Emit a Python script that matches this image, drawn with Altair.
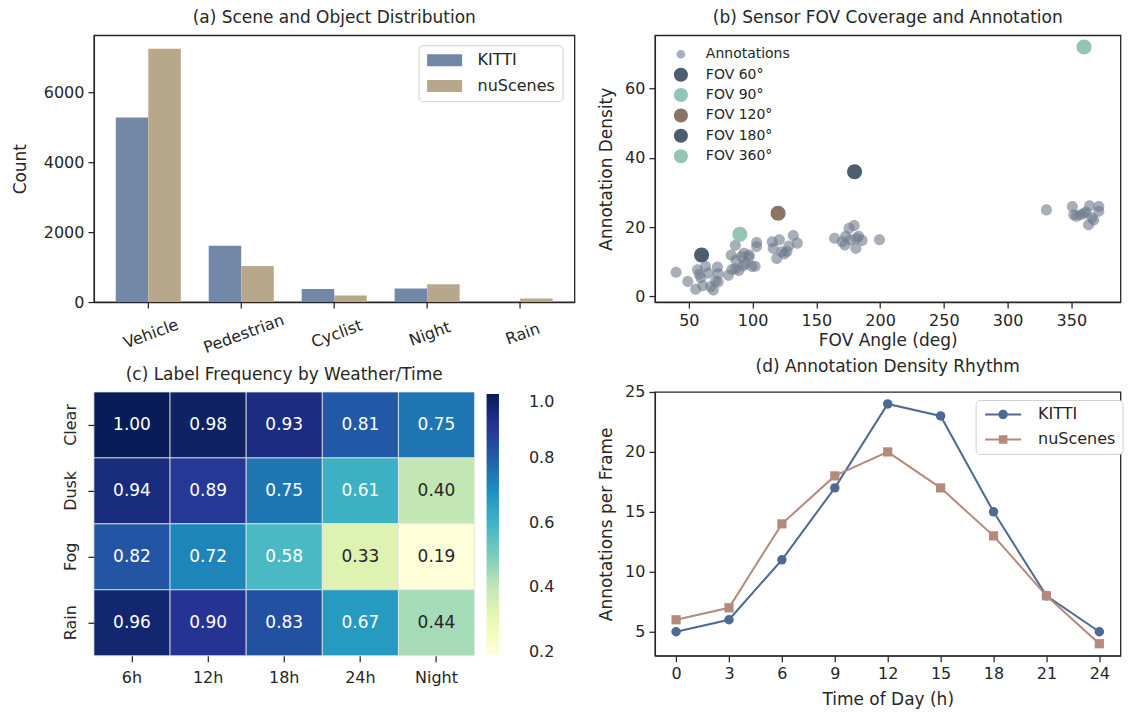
import altair as alt
import pandas as pd

FONT = "DejaVu Sans"
INK = "#262626"

# ---------------- (a) Scene and Object Distribution ----------------
cats_a = ["Vehicle", "Pedestrian", "Cyclist", "Night", "Rain"]
kitti_a = [5280, 1610, 370, 390, 0]
nus_a = [7250, 1030, 190, 510, 100]
datasets = ["KITTI", "nuScenes"]
bar_colors = ["#7387a6", "#b7a88b"]

# ---------------- (b) Sensor FOV Coverage ----------------
ann_fov = [40, 49.2, 55.4, 56.8, 58.1, 59.5, 60.8, 63.1, 65.4, 67, 69.2, 72.4, 73, 71, 73,
           81, 83.8, 83.2, 86.5, 87, 86.7, 89.2, 91.4, 93.2, 92.7, 94.6, 97.3, 97.2, 99.5, 102,
           103.2, 103.2, 115.4, 116.2, 119, 121, 123, 124.9, 127, 128.4, 131.9, 135.1,
           164.3, 170.3, 172.4, 173, 175.7, 177, 179.7, 181, 181.6, 183.2, 185.9, 199.5,
           330.5, 350.8, 351.9, 354, 357.3, 360, 361.6, 363.5, 364.3, 366.2, 367.6, 371.6, 371.6]
ann_den = [7.0, 4.3, 2.1, 7.7, 6.4, 5.4, 3.1, 8.7, 6.8, 2.8, 1.9, 8.5, 6.6, 4.4, 4.2,
           6.1, 7.8, 12.0, 14.8, 10.5, 8.0, 7.5, 11.5, 12.5, 8.9, 9.5, 12.0, 11.4, 8.7, 8.7,
           15.6, 14.4, 15.8, 13.9, 11.0, 16.4, 12.9, 12.3, 13.0, 14.6, 17.6, 15.4,
           16.8, 15.8, 14.9, 17.4, 19.7, 16.4, 20.5, 13.9, 16.8, 17.4, 16.2, 16.4,
           25.0, 26.0, 23.6, 23.2, 23.6, 24.0, 24.4, 20.7, 26.2, 22.7, 22.1, 26.0, 24.6]
fov_labels = ["FOV 60°", "FOV 90°", "FOV 120°", "FOV 180°", "FOV 360°"]
fov_x = [60, 90, 120, 180, 360]
fov_y = [12, 18, 24, 36, 72]
fov_colors = ["#4f5e6e", "#93c4b6", "#8c7462", "#4f5e6e", "#93c4b6"]
ann_color = "rgba(110,122,140,0.6)"

# ---------------- (c) Label Frequency heatmap ----------------
weathers = ["Clear", "Dusk", "Fog", "Rain"]
times = ["6h", "12h", "18h", "24h", "Night"]
freq_clear = [1.00, 0.98, 0.93, 0.81, 0.75]
freq_dusk = [0.94, 0.89, 0.75, 0.61, 0.40]
freq_fog = [0.82, 0.72, 0.58, 0.33, 0.19]
freq_rain = [0.96, 0.90, 0.83, 0.67, 0.44]
ylgnbu = ["#ffffd9", "#edf8b1", "#c7e9b4", "#7fcdbb", "#41b6c4",
          "#1d91c0", "#225ea8", "#253494", "#081d58"]
ylgnbu_stops = [0.19, 0.29125, 0.3925, 0.49375, 0.595, 0.69625, 0.7975, 0.89875, 1.0]

# ---------------- (d) Annotation Density Rhythm ----------------
hours = [0, 3, 6, 9, 12, 15, 18, 21, 24]
kitti_d = [5, 6, 11, 17, 24, 23, 15, 8, 5]
nus_d = [6, 7, 14, 18, 20, 17, 13, 8, 4]
line_colors = ["#4c6a92", "#b48a7d"]


def ttl(text):
    return alt.TitleParams(text, fontSize=17, fontWeight="normal", color=INK, font=FONT, offset=8)


# ---- panel a
df_a = pd.DataFrame({
    "category": cats_a * 2,
    "dataset": ["KITTI"] * len(cats_a) + ["nuScenes"] * len(cats_a),
    "count": kitti_a + nus_a,
})
chart_a = alt.Chart(df_a).mark_bar().encode(
    x=alt.X("category:N", sort=cats_a,
            scale=alt.Scale(paddingInner=0.3, paddingOuter=0.235),
            axis=alt.Axis(labelAngle=340, labelAlign="center", labelBaseline="top",
                          labelPadding=18, title=None)),
    xOffset=alt.XOffset("dataset:N", sort=datasets),
    y=alt.Y("count:Q", scale=alt.Scale(domain=[0, 7634], nice=False),
            axis=alt.Axis(values=[0, 2000, 4000, 6000], format="d", title="Count", titlePadding=14)),
    color=alt.Color("dataset:N", scale=alt.Scale(domain=datasets, range=bar_colors),
                    legend=alt.Legend(orient="none", legendX=325, legendY=10, title=None,
                                      padding=7, strokeColor="#d0d0d0", cornerRadius=4,
                                      fillColor="white", labelFontSize=16,
                                      symbolOffset=11, labelOffset=25, rowPadding=9.7,
                                      symbolType="M-2.92,-1H2.92V1H-2.92Z",
                                      symbolSize=144, symbolStrokeWidth=0)),
).properties(width=481, height=267, title=ttl("(a) Scene and Object Distribution"))

# ---- panel b
series_b = ["Annotations"] + fov_labels
df_b = pd.DataFrame({
    "fov": ann_fov + fov_x,
    "density": ann_den + fov_y,
    "series": ["Annotations"] * len(ann_fov) + fov_labels,
})
small_circle = "M0.62,0A0.62,0.62,0,1,1,-0.62,0A0.62,0.62,0,1,1,0.62,0Z"
big_circle = "M1,0A1,1,0,1,1,-1,0A1,1,0,1,1,1,0Z"
leg_b = alt.Legend(orient="none", legendX=19, legendY=12, title=None,
                   labelFontSize=14, labelOffset=18, rowPadding=6.4,
                   symbolSize=196, symbolStrokeWidth=0, padding=0)
is_ann = alt.datum.series == "Annotations"
chart_b = alt.Chart(df_b).mark_point(filled=True, opacity=1).encode(
    x=alt.X("fov:Q", scale=alt.Scale(domain=[23.4, 388.6], nice=False, zero=False),
            axis=alt.Axis(values=[50, 100, 150, 200, 250, 300, 350], title="FOV Angle (deg)")),
    y=alt.Y("density:Q", scale=alt.Scale(domain=[-1.6, 75.4], nice=False, zero=False),
            axis=alt.Axis(values=[0, 20, 40, 60], title="Annotation Density", titlePadding=9)),
    color=alt.Color("series:N", scale=alt.Scale(domain=series_b, range=[ann_color] + fov_colors),
                    legend=leg_b),
    shape=alt.Shape("series:N", scale=alt.Scale(domain=series_b,
                                                range=[small_circle] + [big_circle] * 5),
                    legend=leg_b),
    size=alt.condition(is_ann, alt.value(320), alt.value(225)),
).properties(width=466, height=267, title=ttl("(b) Sensor FOV Coverage and Annotation"))

# ---- panel c
rows_c = [freq_clear, freq_dusk, freq_fog, freq_rain]
recs = []
for w, vals in zip(weathers, rows_c):
    for t, v in zip(times, vals):
        recs.append({"weather": w, "time": t, "value": v})
df_c = pd.DataFrame(recs)
base_c = alt.Chart(df_c).encode(
    x=alt.X("time:N", sort=times, scale=alt.Scale(paddingInner=0, paddingOuter=0),
            axis=alt.Axis(labelAngle=0, domain=False, title=None, labelPadding=8)),
    y=alt.Y("weather:N", sort=weathers, scale=alt.Scale(paddingInner=0, paddingOuter=0),
            axis=alt.Axis(labelAngle=270, labelAlign="center", labelBaseline="bottom",
                          domain=False, title=None, labelPadding=9)),
)
heat = base_c.mark_rect(stroke="#e6e6e6", strokeWidth=0.8).encode(
    color=alt.Color("value:Q",
                    scale=alt.Scale(domain=ylgnbu_stops, range=ylgnbu, interpolate="rgb"),
                    legend=alt.Legend(orient="none", legendX=393, legendY=2, direction="vertical",
                                      gradientLength=261, gradientThickness=12.4, title=None,
                                      values=[0.2, 0.4, 0.6, 0.8, 1.0], format=".1f",
                                      labelFontSize=16, labelOffset=30,
                                      gradientStrokeWidth=0, padding=0)),
)
labels_c = base_c.mark_text(fontSize=17, font=FONT).encode(
    text=alt.Text("value:Q", format=".2f"),
    color=alt.condition(alt.datum.value < 0.5, alt.value(INK), alt.value("white")),
)
chart_c = alt.layer(heat, labels_c).properties(
    width=381, height=264, title=ttl("(c) Label Frequency by Weather/Time"),
    view=alt.ViewBackground(stroke="transparent"),
)

# ---- panel d
df_d = pd.DataFrame({
    "hour": hours * 2,
    "value": kitti_d + nus_d,
    "series": ["KITTI"] * len(hours) + ["nuScenes"] * len(hours),
})
xd = alt.X("hour:Q", scale=alt.Scale(domain=[-1.2, 25.2], nice=False, zero=False),
           axis=alt.Axis(values=hours, title="Time of Day (h)", titlePadding=10))
yd = alt.Y("value:Q", scale=alt.Scale(domain=[3, 25], nice=False, zero=False),
           axis=alt.Axis(values=[5, 10, 15, 20, 25], title="Annotations per Frame", titlePadding=9))
base_d = alt.Chart(df_d)
k_only = alt.datum.series == "KITTI"
n_only = alt.datum.series == "nuScenes"
line_k = base_d.transform_filter(k_only).mark_line(strokeWidth=2, color=line_colors[0]).encode(x=xd, y=yd)
line_n = base_d.transform_filter(n_only).mark_line(strokeWidth=2, color=line_colors[1]).encode(x=xd, y=yd)
pts_k = base_d.transform_filter(k_only).mark_point(
    filled=True, shape="circle", size=90, opacity=1, color=line_colors[0]).encode(x=xd, y=yd)
pts_n = base_d.transform_filter(n_only).mark_point(
    filled=True, shape="square", size=85, opacity=1, color=line_colors[1]).encode(x=xd, y=yd)
path_k = ("M-3.6,-0.2H-0.94V0.2H-3.6Z M0.94,-0.2H3.6V0.2H0.94Z "
          "M0.94,0A0.94,0.94,0,1,1,-0.94,0A0.94,0.94,0,1,1,0.94,0Z")
path_n = ("M-3.6,-0.2H-0.86V0.2H-3.6Z M0.86,-0.2H3.6V0.2H0.86Z "
          "M-0.86,-0.86H0.86V0.86H-0.86Z")
leg_dd = alt.Legend(orient="none", legendX=321, legendY=8, title=None,
                    padding=6.5, strokeColor="#d0d0d0", cornerRadius=4,
                    fillColor="white", labelFontSize=16,
                    symbolOffset=13, labelOffset=27, rowPadding=9,
                    symbolSize=100, symbolStrokeWidth=0, symbolOpacity=1)
leg_d = base_d.mark_point(filled=True, opacity=0).encode(
    x=xd, y=yd,
    color=alt.Color("series:N", scale=alt.Scale(domain=datasets, range=line_colors), legend=leg_dd),
    shape=alt.Shape("series:N", scale=alt.Scale(domain=datasets, range=[path_k, path_n]),
                    legend=leg_dd),
)
chart_d = alt.layer(line_k, line_n, pts_k, pts_n, leg_d).properties(
    width=466, height=264, title=ttl("(d) Annotation Density Rhythm"))

chart = alt.concat(
    chart_a, chart_b, chart_c, chart_d, columns=2, bounds="flush",
    spacing=alt.RowColnumber(row=90, column=80.5),
).resolve_scale(
    color="independent", shape="independent"
).resolve_legend(
    color="independent", shape="independent"
).properties(
    padding={"left": 10, "top": 8, "right": 5, "bottom": 5}
).configure(font=FONT).configure_view(
    stroke=INK, strokeWidth=1.3
).configure_axis(
    labelFontSize=16, titleFontSize=17, labelColor=INK, titleColor=INK, tickColor=INK,
    domainColor=INK, tickSize=6, tickWidth=1.25, domainWidth=1.25, grid=False,
    labelPadding=4, titleFontWeight="normal", labelFont=FONT, titleFont=FONT,
).configure_legend(labelFont=FONT, labelColor=INK)

chart.save("out.html", embed_options={"renderer": "svg", "actions": False})
